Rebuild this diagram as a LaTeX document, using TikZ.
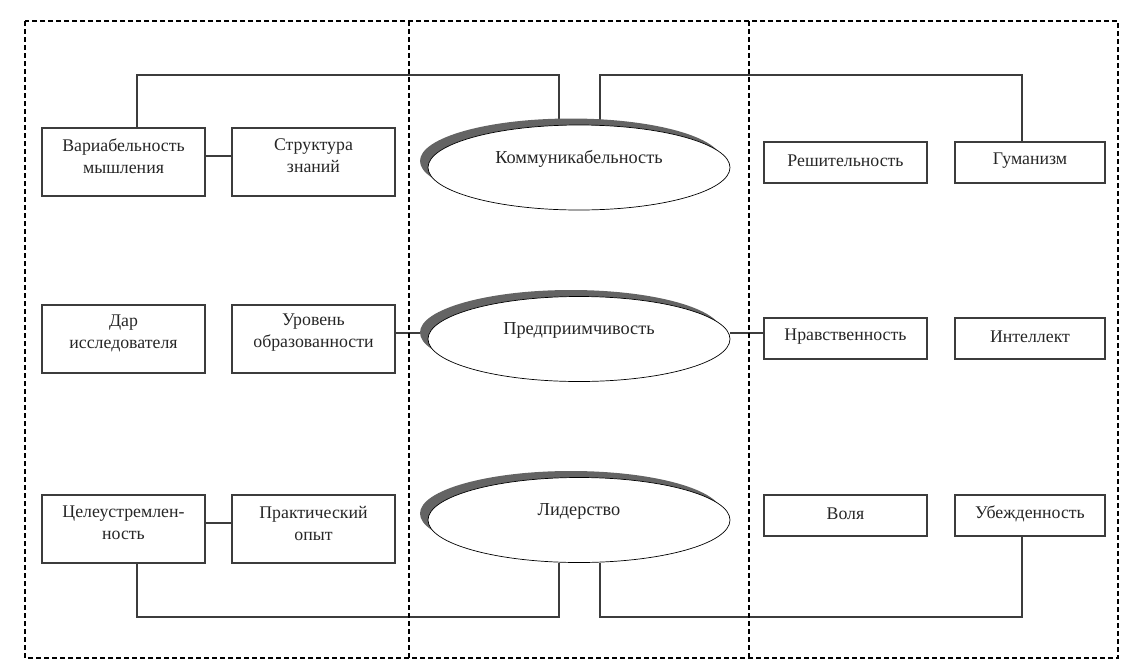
\documentclass[tikz,border=0pt]{standalone}
\usepackage{fontspec}
\setmainfont{Liberation Serif}
\usetikzlibrary{shapes.geometric,backgrounds}
\definecolor{lc}{RGB}{60,60,60}
\definecolor{sh}{RGB}{100,100,100}
\begin{document}
\begin{tikzpicture}[x=1pt,y=-1pt,
  box/.style={draw=lc, line width=1.1pt, minimum width=163pt, minimum height=68pt, inner sep=2pt},
  sbox/.style={box, minimum height=41pt},
  btext/.style={align=center, inner sep=0pt, font=\fontsize{17.8}{22}\selectfont, text=black!85},
  ell/.style={ellipse, draw=black, line width=0.7pt, fill=white, minimum width=302pt, minimum height=85pt, inner sep=0pt},
  etext/.style={font=\fontsize{18.3}{20}\selectfont, text=black!85},
  conn/.style={draw=lc, line width=1.1pt},
  frame/.style={draw=black, line width=1.1pt, dash pattern=on 5pt off 3pt}]

\useasboundingbox (0,0) rectangle (1138,665);

% frame
\draw[frame] (25,21) rectangle (1118,658);
\draw[frame] (409,21) -- (409,658);
\draw[frame] (749,21) -- (749,658);

% left boxes
\node[box, label={[btext, yshift=6pt]center:Вариабельность\\мышления}] (b11) at (123.5,162) {};
\node[box, label={[btext, yshift=6pt]center:Структура\\знаний}] (b12) at (313.5,162) {};
\node[box, label={[btext, yshift=6pt]center:Дар\\исследователя}] (b21) at (123.5,339) {};
\node[box, label={[btext, yshift=6pt]center:Уровень\\образованности}] (b22) at (313.5,339) {};
\node[box, label={[btext, yshift=6pt]center:Целеустремлен-\\ность}] (b31) at (123.5,529) {};
\node[box, label={[btext, yshift=6pt]center:Практический\\опыт}] (b32) at (313.5,529) {};

% right boxes
\node[sbox, label={[btext, yshift=2pt]center:Решительность}] (r11) at (845.5,162.5) {};
\node[sbox, minimum width=150pt, label={[btext, yshift=2pt]center:Гуманизм}] (r12) at (1030,162.5) {};
\node[sbox, label={[btext, yshift=2pt]center:Нравственность}] (r21) at (845.5,338.5) {};
\node[sbox, minimum width=150pt, label={[btext, yshift=2pt]center:Интеллект}] (r22) at (1030,338.5) {};
\node[sbox, label={[btext, yshift=2pt]center:Воля}] (r31) at (845.5,515.5) {};
\node[sbox, minimum width=150pt, label={[btext, yshift=2pt]center:Убежденность}] (r32) at (1030,515.5) {};

% ellipses with shadows
\coordinate (c1) at (579,167.5);
\coordinate (c2) at (579,339);
\coordinate (c3) at (579,520);
\foreach \c in {c1,c2,c3}{
  \fill[sh] ([xshift=-8pt,yshift=6.5pt]\c) ellipse [x radius=151pt, y radius=42.5pt];
}
\node[ell] (e1) at (c1) {};
\node[ell] (e2) at (c2) {};
\node[ell] (e3) at (c3) {};
\node[etext] (t1) at ([yshift=9pt]e1.center) {Коммуникабельность};
\node[etext] (t2) at ([yshift=9pt]e2.center) {Предприимчивость};
\node[etext] (t3) at ([yshift=9pt]e3.center) {Лидерство};

% connector end points
\coordinate (topy) at (0,75);
\coordinate (boty) at (0,617);
\coordinate (b11t) at ([xshift=13.5pt]b11.north);
\coordinate (b31b) at ([xshift=13.5pt]b31.south);
\coordinate (e1l) at ([xshift=-20pt]e1.north);
\coordinate (e1r) at ([xshift=21pt]e1.north);
\coordinate (e3l) at ([xshift=-20pt]e3.south);
\coordinate (e3r) at ([xshift=21pt]e3.south);
\coordinate (r12t) at ([xshift=-8pt]r12.north);
\coordinate (r32b) at ([xshift=-8pt]r32.south);
\coordinate (e2r) at ([yshift=6pt]e2.east);
\coordinate (e2l) at ([yshift=6pt]e2.west);

% connectors
\begin{pgfonlayer}{background}
\draw[conn] (b11t) -- (b11t |- topy) -| (e1l);
\draw[conn] (e1r) -- (e1r |- topy) -| (r12t);
\draw[conn] ([yshift=6pt]b11.east) -- ([yshift=6pt]b12.west);
\draw[conn] ([yshift=6pt]b31.east) -- ([yshift=6pt]b32.west);
\draw[conn] (e2l -| b22.east) -- (e2l);
\draw[conn] (e2r) -- (e2r -| r21.west);
\draw[conn] (b31b) -- (b31b |- boty) -| (e3l);
\draw[conn] (e3r) -- (e3r |- boty) -| (r32b);
\end{pgfonlayer}
\end{tikzpicture}
\end{document}
